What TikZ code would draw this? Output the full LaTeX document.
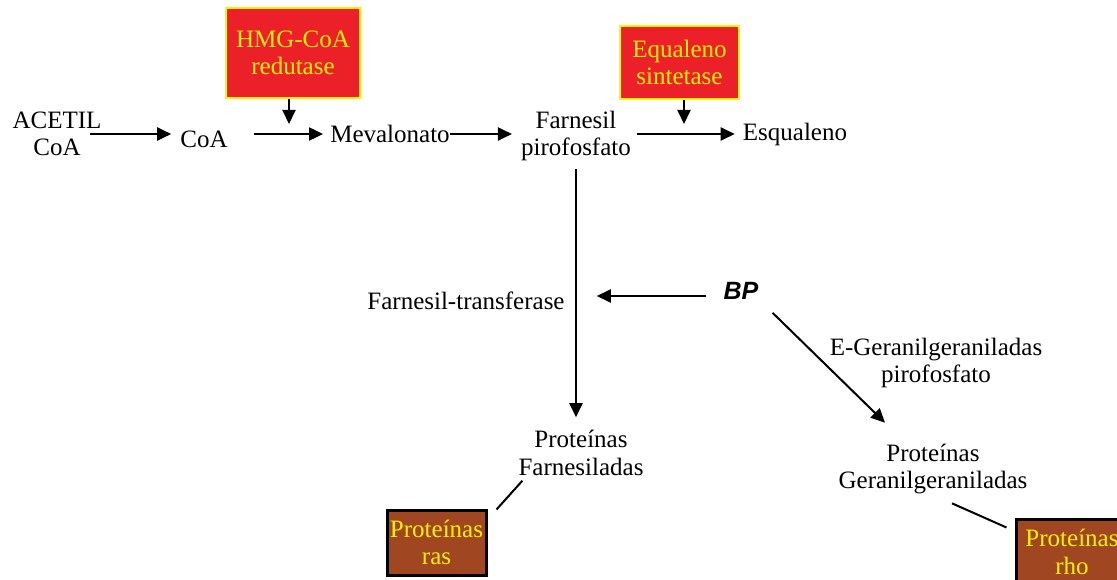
\documentclass[tikz,border=0pt]{standalone}
\usepackage{fontspec}
\setmainfont{Liberation Serif}
\newfontfamily\bpfont{Liberation Sans}
\usetikzlibrary{arrows.meta}

\definecolor{enzred}{RGB}{236,32,40}
\definecolor{protbrown}{RGB}{160,70,32}

\begin{document}
\begin{tikzpicture}[x=1pt,y=-1pt,
    every node/.style={inner sep=0pt, align=center, font=\fontsize{25}{27.5}\selectfont},
    arr/.style={line width=2pt, -{Triangle[length=14pt,width=13pt]}},
    link/.style={line width=2pt},
    enzyme/.style={draw=yellow, line width=2.5pt, fill=enzred, text=yellow},
    protbox/.style={draw=black, line width=3pt, fill=protbrown, text=yellow}]
    \useasboundingbox (0,0) rectangle (1117,580);
    % main row
    \node (acetil) at (57,134) {ACETIL\\CoA};
    \node (coa) at (204,139) {CoA};
    \node (meval) at (390,134) {Mevalonato};
    \node (farn) at (576,136) {Farnesil\\pirofosfato};
    \node (esqual) at (795,134) {Esqualeno};
    % enzymes
    \node[enzyme, minimum width=134pt, minimum height=90pt] (hmg) at (293,53) {HMG-CoA\\redutase};
    \node[enzyme, minimum width=119pt, minimum height=73pt] (sint) at (679.5,62.5) {Equaleno\\sintetase};
    \coordinate (hmgtip) at (289,124);
    \coordinate (sinttip) at (684,124);
    % lower part
    \node (transf) at (466,301) {Farnesil-transferase};
    \node[font=\fontsize{25}{27.5}\bpfont\bfseries\itshape] (bp) at (741,291) {BP};
    \node (egpp) at (936,363) {E-Geranilgeraniladas\\pirofosfato};
    \node (pfarn) at (581,453) {Proteínas\\Farnesiladas};
    \node (pgeran) at (933,469) {Proteínas\\Geranilgeraniladas};
    \node[protbox, minimum width=99pt, minimum height=65pt] (ras) at (436.5,542.5) {Proteínas\\ras};
    \node[protbox, minimum width=112pt, minimum height=66pt] (rho) at (1072,552) {Proteínas\\rho};
    % connectors
    \draw[arr] ([xshift=-12pt]acetil.east) -- ([xshift=-9pt,yshift=5pt]coa.west);
    \draw[arr] ([xshift=26pt,yshift=5pt]coa.east) -- ([xshift=-7pt]meval.west);
    \draw[arr] ([xshift=-4pt]hmg.south) -- (hmgtip);
    \draw[arr] (meval.east) -- ([xshift=-9pt,yshift=2pt]farn.west);
    \draw[arr] ([xshift=6pt,yshift=2pt]farn.east) -- ([xshift=-8pt]esqual.west);
    \draw[arr] ([xshift=4.5pt]sint.south) -- (sinttip);
    \draw[arr] ([yshift=-8pt]farn.south) -- ([yshift=13pt]farn.south |- pfarn.north);
    \draw[arr] ([xshift=-17pt,yshift=-5pt]bp.west) -- ([xshift=32pt,yshift=5pt]transf.east);
    \draw[arr] ([xshift=14pt,yshift=-13pt]bp.south east) -- ([xshift=-48pt,yshift=21pt]pgeran.north);
    \draw[link] ([xshift=4pt,yshift=-5pt]pfarn.south west) -- ([xshift=9pt,yshift=-1pt]ras.north east);
    \draw[link] ([xshift=19pt,yshift=-9pt]pgeran.south) -- ([xshift=-8pt,yshift=-10pt]rho.north west);
\end{tikzpicture}
\end{document}
